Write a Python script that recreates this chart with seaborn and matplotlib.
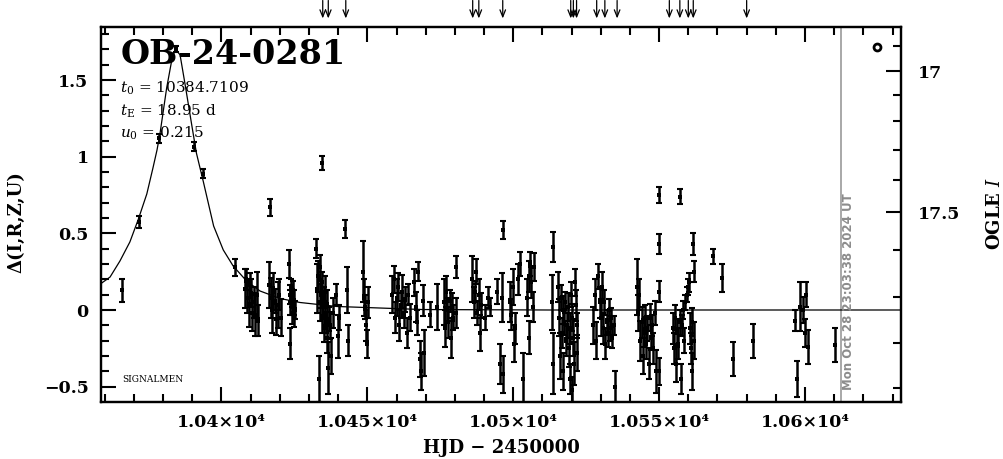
import matplotlib
matplotlib.use("Agg")
import matplotlib.pyplot as plt
import matplotlib.transforms as mtransforms
from matplotlib.ticker import FixedLocator, MultipleLocator, FuncFormatter
import seaborn as sns
import pandas as pd

# OGLE photometry (HJD-2450000, delta, error)
obs_hjd = [
    10365.8, 10371.7, 10378.7, 10384.4, 10390.7, 10393.6, 10404.6,
    10408.2, 10408.5, 10408.9, 10409.3, 10409.7, 10410.1, 10410.6, 10411.0, 10411.5, 10412.0, 10412.4,
    10416.2, 10416.6, 10416.9, 10417.3, 10417.8, 10418.3, 10418.7, 10419.2, 10419.7, 10420.3,
    10423.2, 10423.4, 10423.5, 10423.6, 10423.8, 10424.0, 10424.2, 10424.4, 10424.6, 10424.8, 10425.0, 10425.2,
    10432.4, 10432.8, 10433.1, 10433.4, 10433.6, 10433.9, 10434.1, 10434.3, 10434.4, 10434.6, 10434.8,
    10435.0, 10435.2, 10435.4, 10435.6, 10435.8, 10436.0, 10436.3, 10436.5, 10436.8, 10437.3, 10437.6,
    10438.2, 10439.3, 10439.9, 10440.3, 10442.4, 10443.0, 10443.3,
    10448.6, 10448.9, 10449.3, 10449.6, 10450.0, 10450.3,
    10458.5, 10459.0, 10459.5, 10460.0, 10460.5, 10461.0, 10461.5, 10462.0, 10462.5, 10463.0, 10463.5,
    10464.0, 10464.5, 10466.0, 10466.5, 10467.0, 10467.5, 10468.0, 10468.5, 10469.0, 10469.3,
    10471.6, 10474.0,
    10476.2, 10476.6, 10477.0, 10477.4, 10477.8, 10478.2, 10478.6, 10479.0, 10479.5, 10480.3, 10480.5,
    10486.0, 10486.4, 10486.8, 10487.2, 10487.6, 10488.2, 10488.6, 10489.0,
    10490.4, 10491.2, 10492.0, 10494.4, 10495.5, 10496.0, 10496.4, 10496.6,
    10499.0, 10499.4, 10499.8, 10500.2, 10500.5, 10501.5, 10502.2, 10503.4,
    10504.8, 10505.3, 10505.5, 10505.8, 10506.2, 10506.7, 10507.2,
    10513.2, 10513.5, 10513.6,
    10515.4, 10515.7, 10516.0, 10516.3, 10516.6, 10516.9, 10517.2, 10517.5, 10517.8, 10518.1, 10518.4, 10518.7,
    10519.0, 10519.3, 10519.6, 10519.9, 10520.0, 10520.2, 10520.5, 10520.8, 10521.1, 10521.4, 10521.7, 10522.0,
    10527.4, 10527.9, 10528.4, 10529.0, 10529.6, 10530.0, 10530.4, 10530.8, 10531.2, 10531.6, 10532.0,
    10532.4, 10532.8, 10533.2, 10533.6, 10534.0, 10534.4, 10535.0,
    10542.3, 10542.7, 10543.1, 10543.5, 10544.0, 10544.4, 10544.8, 10545.2, 10545.6, 10546.0, 10546.4,
    10546.8, 10547.2, 10547.6, 10548.0, 10548.5, 10549.0, 10549.8, 10549.9, 10549.9, 10549.9, 10557.1,
    10554.6, 10555.0, 10555.4, 10555.8, 10556.2, 10556.6, 10557.0, 10557.4, 10557.8, 10558.2, 10558.6,
    10559.0, 10559.4, 10559.8, 10560.2, 10560.5, 10560.8, 10561.1, 10561.4, 10561.7, 10561.8, 10562.0,
    10568.4, 10571.5, 10575.3, 10582.1,
    10596.5, 10597.3, 10598.2, 10599.2, 10599.9, 10600.3, 10600.9, 10610.2,
]
obs_delta = [
    0.13, 0.575, 1.12, 1.70, 1.065, 0.89, 0.28,
    0.14, 0.20, 0.08, 0.04, 0.16, 0.11, -0.02, 0.05, -0.03, 0.10, -0.07,
    0.16, 0.67, 0.08, 0.00, 0.12, 0.06, -0.06, 0.03, 0.10, -0.05,
    0.30, 0.10, -0.22, 0.05, 0.15, -0.02, 0.08, 0.02, 0.12, -0.05, 0.05, 0.00,
    0.40, 0.14, 0.22, -0.45, 0.05, 0.28, 0.10, 0.96, -0.05, 0.18, 0.02,
    -0.12, 0.08, -0.02, 0.12, -0.08, 0.04, -0.18, -0.38, -0.06, -0.10, -0.30,
    -0.02, 0.10, -0.17, -0.05, 0.53, 0.13, -0.20,
    0.25, 0.08, 0.02, -0.10, -0.22, 0.05,
    0.10, 0.20, -0.05, 0.08, 0.15, -0.10, 0.03, 0.12, -0.03, 0.07, -0.15,
    0.10, -0.05, 0.18, 0.02, -0.08, 0.25, -0.32, -0.40, 0.06, -0.28,
    -0.03, 0.02,
    0.05, -0.12, 0.12, 0.00, -0.08, 0.06, -0.18, 0.02, -0.05, 0.28, -0.02,
    0.20, 0.05, 0.12, 0.25, -0.02, 0.10, -0.15, 0.03,
    -0.05, 0.08, 0.02, 0.12, -0.35, 0.08, 0.52, -0.42,
    0.05, -0.03, 0.15, -0.22, -0.12, 0.20, 0.30, -0.45,
    0.08, 0.22, -0.18, 0.30, 0.18, 0.02, 0.28,
    0.05, 0.41, -0.35,
    0.15, -0.05, -0.30, 0.08, -0.15, 0.00, -0.40, -0.08, 0.05, -0.20, -0.10, 0.02,
    -0.25, -0.12, -0.45, 0.10, -0.52, -0.05, -0.18, -0.35, 0.18, 0.03, -0.10, -0.28,
    -0.10, 0.10, -0.20, 0.22, 0.05, -0.05, 0.15, -0.12, 0.05, -0.22, -0.08,
    -0.15, 0.00, -0.12, -0.05, -0.18, -0.10, -0.50,
    0.15, -0.02, 0.10, -0.20, -0.08, -0.30, -0.15, -0.05, -0.22, -0.12, -0.35,
    -0.05, -0.18, -0.10, -0.25, -0.02, -0.40, 0.12, 0.43, 0.75, -0.40, 0.74,
    -0.12, -0.25, -0.05, -0.35, -0.15, -0.22, -0.08, -0.45, -0.10, 0.00, -0.20,
    0.05, 0.10, 0.15, 0.18, -0.12, -0.25, -0.08, -0.40, 0.43, 0.25, -0.20,
    0.35, 0.21, -0.32, -0.20,
    -0.07, -0.45, 0.02, 0.00, -0.15, 0.10, -0.24, -0.23,
]
obs_err = [
    0.075, 0.04, 0.03, 0.02, 0.03, 0.03, 0.055,
    0.13, 0.07, 0.10, 0.15, 0.08, 0.09, 0.12, 0.10, 0.14, 0.15, 0.10,
    0.15, 0.055, 0.13, 0.15, 0.12, 0.08, 0.10, 0.15, 0.10, 0.12,
    0.09, 0.06, 0.10, 0.08, 0.05, 0.07, 0.06, 0.05, 0.07, 0.06, 0.08, 0.06,
    0.06, 0.16, 0.10, 0.15, 0.12, 0.08, 0.09, 0.045, 0.10, 0.07, 0.08,
    0.09, 0.07, 0.08, 0.10, 0.07, 0.09, 0.10, 0.17, 0.08, 0.09, 0.12,
    0.10, 0.07, 0.14, 0.08, 0.06, 0.15, 0.10,
    0.20, 0.12, 0.08, 0.10, 0.09, 0.10,
    0.12, 0.09, 0.10, 0.12, 0.09, 0.10, 0.08, 0.11, 0.09, 0.08, 0.10,
    0.07, 0.09, 0.09, 0.10, 0.08, 0.06, 0.12, 0.12, 0.10, 0.15,
    0.08, 0.15,
    0.15, 0.12, 0.10, 0.08, 0.10, 0.07, 0.13, 0.09, 0.08, 0.07, 0.10,
    0.15, 0.10, 0.07, 0.08, 0.08, 0.10, 0.12, 0.08,
    0.08, 0.07, 0.06, 0.08, 0.13, 0.16, 0.06, 0.12,
    0.13, 0.10, 0.12, 0.12, 0.10, 0.10, 0.08, 0.17,
    0.12, 0.10, 0.11, 0.08, 0.10, 0.10, 0.09,
    0.18, 0.10, 0.20,
    0.10, 0.12, 0.15, 0.08, 0.10, 0.09, 0.12, 0.08, 0.07, 0.10, 0.08, 0.09,
    0.12, 0.10, 0.10, 0.08, 0.08, 0.09, 0.12, 0.14, 0.09, 0.10, 0.08, 0.12,
    0.12, 0.10, 0.12, 0.08, 0.10, 0.12, 0.10, 0.10, 0.08, 0.10, 0.08,
    0.09, 0.07, 0.08, 0.06, 0.07, 0.06, 0.10,
    0.18, 0.12, 0.10, 0.13, 0.10, 0.12, 0.09, 0.08, 0.10, 0.08, 0.10,
    0.09, 0.08, 0.07, 0.10, 0.08, 0.14, 0.07, 0.065, 0.05, 0.09, 0.05,
    0.10, 0.10, 0.08, 0.12, 0.09, 0.10, 0.08, 0.10, 0.07, 0.06, 0.08,
    0.05, 0.05, 0.05, 0.06, 0.10, 0.10, 0.09, 0.12, 0.07, 0.07, 0.12,
    0.05, 0.09, 0.11, 0.11,
    0.07, 0.12, 0.16, 0.085, 0.09, 0.08, 0.11, 0.11,
]

# PSPL model curve
model_hjd = [10358.5, 10361.8, 10365.2, 10368.6, 10371.4, 10374.4, 10376.5, 10377.9,
             10378.9, 10381.2, 10382.9, 10384.2, 10385.8, 10387.5, 10389.8, 10391.4,
             10393.8, 10397.3, 10400.6, 10404.0, 10408.6, 10413.2, 10420.1, 10426.9,
             10439.5, 10469.0, 10512.6, 10633.0]
model_delta = [0.170, 0.215, 0.320, 0.444, 0.587, 0.757, 0.926, 1.044,
               1.148, 1.448, 1.624, 1.703, 1.664, 1.474, 1.207, 1.024,
               0.835, 0.548, 0.392, 0.287, 0.189, 0.124, 0.075, 0.049,
               0.023, 0.003, 0.0, 0.0]

# follow-up alert arrows along the top
alert_hjd = [10434.7, 10436.6, 10442.6, 10486.1, 10488.2, 10496.4, 10519.7, 10520.6,
             10521.7, 10528.6, 10531.4, 10535.6, 10553.5, 10557.1, 10560.0, 10561.7, 10580.0]

# right hand OGLE I axis (tick positions in delta units)
ogle_major_pos = [1.559, 0.639]
ogle_major_lab = ["17", "17.5"]
ogle_minor_pos = [1.722, 1.402, 1.233, 1.044, 0.848, 0.391, 0.085, -0.215, -0.509]

now_hjd = 10612.4
xlim = (10358.7, 10632.9)
ylim = (-0.598, 1.848)

sns.set_style("ticks")
plt.rcParams["font.family"] = ["DejaVu Serif"]
plt.rcParams["mathtext.fontset"] = "dejavuserif"
plt.rcParams["axes.edgecolor"] = "black"
plt.rcParams["text.color"] = "black"
plt.rcParams["axes.labelcolor"] = "black"
plt.rcParams["xtick.color"] = "black"
plt.rcParams["ytick.color"] = "black"

fig = plt.figure(figsize=(10.04, 4.59), dpi=100)
ax = fig.add_axes([0.1006, 0.1249, 0.7968, 0.8169])

obs = pd.DataFrame({"hjd": obs_hjd, "delta": obs_delta, "err": obs_err})
ax.errorbar(obs["hjd"], obs["delta"], yerr=obs["err"], fmt="none", ecolor="black",
            elinewidth=1.8, capsize=2, capthick=1.5, zorder=3)
sns.scatterplot(data=obs, x="hjd", y="delta", ax=ax, marker="s", s=5, color="black",
                edgecolor="black", linewidth=0, zorder=4)

model = pd.DataFrame({"hjd": model_hjd, "delta": model_delta})
sns.lineplot(data=model, x="hjd", y="delta", ax=ax, color="black", lw=0.9, sort=False, zorder=2)

ax.axvline(now_hjd, color="#999999", lw=1.2, zorder=1)
ax.plot([10624.6], [1.716], marker="o", ms=5, mfc="white", mec="black", mew=2, ls="none")

ax.set_xlim(*xlim)
ax.set_ylim(*ylim)
ax.set_xlabel("")
ax.set_ylabel("")

ax.xaxis.set_major_locator(MultipleLocator(50))
ax.xaxis.set_minor_locator(MultipleLocator(10))
ax.yaxis.set_major_locator(MultipleLocator(0.5))
ax.yaxis.set_minor_locator(MultipleLocator(0.1))
ax.xaxis.set_major_formatter(FuncFormatter(lambda v, p: f"{round(v) / 1e4:g}×10⁴"))
ax.yaxis.set_major_formatter(FuncFormatter(lambda v, p: f"{v:g}".replace("-", "−")))
ax.tick_params(which="both", direction="in", top=True, right=False, width=1.5,
               labelsize=12.5, pad=9)
ax.tick_params(which="major", length=11)
ax.tick_params(which="minor", length=5.5)
for lab in ax.get_xticklabels() + ax.get_yticklabels():
    lab.set_fontweight("bold")
for sp in ax.spines.values():
    sp.set_linewidth(1.6)
    sp.set_visible(True)

ax2 = ax.twinx()
ax2.set_ylim(*ylim)
ax2.yaxis.set_major_locator(FixedLocator(ogle_major_pos))
ax2.yaxis.set_minor_locator(FixedLocator(ogle_minor_pos))
ax2.set_yticklabels(ogle_major_lab, fontweight="bold", fontsize=12.5)
ax2.tick_params(which="both", direction="in", width=1.5, pad=12)
ax2.tick_params(which="major", length=11)
ax2.tick_params(which="minor", length=5.5)
for sp in ax2.spines.values():
    sp.set_linewidth(1.6)

trans = mtransforms.blended_transform_factory(ax.transData, ax.transAxes)
for t in alert_hjd:
    ax.annotate("", xy=(t, 1.022), xycoords=trans, xytext=(t, 1.07), textcoords=trans,
                arrowprops=dict(arrowstyle="->, head_length=0.5, head_width=0.2",
                                lw=0.9, color="black", shrinkA=0, shrinkB=0),
                annotation_clip=False)

ax.text(0.024, 0.925, "OB-24-0281", transform=ax.transAxes, fontsize=24,
        fontweight="bold", va="center", ha="left")
ax.text(0.024, 0.837, r"$t_0$ = 10384.7109", transform=ax.transAxes, fontsize=11,
        va="center", ha="left")
ax.text(0.024, 0.775, r"$t_{\rm E}$ = 18.95 d", transform=ax.transAxes, fontsize=11,
        va="center", ha="left")
ax.text(0.024, 0.716, r"$u_0$ = 0.215", transform=ax.transAxes, fontsize=11,
        va="center", ha="left")
ax.text(0.026, 0.058, "SIGNALMEN", transform=ax.transAxes, fontsize=6.5,
        va="center", ha="left")
ax.text(0.934, 0.031, "Mon Oct 28 23:03:38 2024 UT", transform=ax.transAxes,
        rotation=90, fontsize=8.5, fontweight="bold", color="#8c8c8c",
        family="DejaVu Sans", ha="center", va="bottom")

fig.text(501 / 1004, 1 - 448 / 459, "HJD − 2450000", fontsize=13, fontweight="bold",
         ha="center", va="center")
fig.text(16 / 1004, 1 - 222 / 459, "Δ(I,R,Z,U)", fontsize=13, fontweight="bold",
         rotation=90, ha="center", va="center")
fig.text(995 / 1004, 1 - 213 / 459, r"OGLE $\mathit{I}$", fontsize=13, fontweight="bold",
         rotation=90, ha="center", va="center")

fig.savefig("out.png", dpi=100)
